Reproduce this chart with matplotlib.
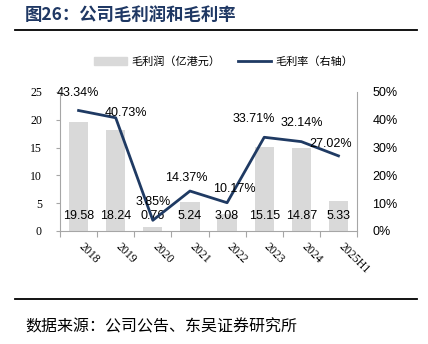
import matplotlib.pyplot as plt
from matplotlib.lines import Line2D
import numpy as np

plt.rcParams['font.family'] = ['Liberation Sans', 'Noto Sans CJK SC']

years = ["2018", "2019", "2020", "2021", "2022", "2023", "2024", "2025H1"]
profit = [19.58, 18.24, 0.76, 5.24, 3.08, 15.15, 14.87, 5.33]
margin = [43.34, 40.73, 3.85, 14.37, 10.17, 33.71, 32.14, 27.02]

bar_color = "#d9d9d9"
line_color = "#1f3a63"
spine_color = "#a6a6a6"

fig = plt.figure(figsize=(4.28, 3.44), dpi=100)
ax = fig.add_axes([0.1402, 0.3285, 0.6940, 0.4041])
ax2 = ax.twinx()

x = np.arange(len(years))
ax.bar(x, profit, width=0.52, color=bar_color, zorder=1, label="毛利润（亿港元）")
ax2.plot(x, margin, color=line_color, lw=2, zorder=3, label="毛利率（右轴）")

ax.set_xlim(-0.5, len(years) - 0.5)
ax.set_ylim(0, 25)
ax.set_yticks(range(0, 26, 5))
ax2.set_ylim(0, 50)
ax2.set_yticks(range(0, 51, 10))
ax2.set_yticklabels([f"{v}%" for v in range(0, 51, 10)], fontsize=9)

# category ticks sit between bars, labels under bar centres
ax.set_xticks(np.arange(-0.5, len(years), 1))
ax.set_xticklabels([])
ax.tick_params(axis="x", length=4, color=spine_color)
for xi, name in zip(x, years):
    ax.text(xi + 0.05, -0.1, name, transform=ax.get_xaxis_transform(),
            rotation=-45, rotation_mode="anchor", ha="left", va="center",
            fontsize=8.5, family="Liberation Serif")

for lab in ax.get_yticklabels():
    lab.set_family("Liberation Serif")
    lab.set_fontsize(8.5)
ax.tick_params(axis="y", length=3, pad=10, color=spine_color)
ax2.tick_params(axis="y", length=0, pad=11)

for a in (ax, ax2):
    a.spines["top"].set_visible(False)
    for s in ("left", "right", "bottom"):
        a.spines[s].set_color(spine_color)
ax.spines["right"].set_visible(False)
ax2.spines["left"].set_visible(False)
ax2.spines["bottom"].set_visible(False)

for xi, v in zip(x, profit):
    ax.annotate(f"{v:.2f}", (xi, 0), xytext=(0, 15), textcoords="offset pixels",
                ha="center", va="center", fontsize=9)

pct_offsets = [(-1, 18), (10, 5), (0, 18), (-4, 13), (7, 14), (-10, 18), (0, 19), (-8, 12)]
for xi, v, off in zip(x, margin, pct_offsets):
    ax2.annotate(f"{v:.2f}%", (xi, v), xytext=off, textcoords="offset pixels",
                 ha="center", va="center", fontsize=9, zorder=4)

handles = [plt.Rectangle((0, 0), 1, 1, color=bar_color),
           Line2D([0], [0], color=line_color, lw=2)]
fig.legend(handles, ["毛利润（亿港元）", "毛利率（右轴）"], loc="center",
           bbox_to_anchor=(0.523, 0.82), ncol=2, frameon=False,
           prop={"family": "Noto Sans CJK SC", "size": 8},
           handlelength=2.9, handleheight=0.7, handletextpad=0.45, columnspacing=1.6)

fig.text(25 / 428, 1 - 15 / 344, "图26：公司毛利润和毛利率", ha="left", va="center",
         fontsize=12.5, fontweight="bold", color="#1f3864", family="Noto Sans CJK SC")
fig.add_artist(Line2D([15 / 428, 417 / 428], [1 - 30 / 344, 1 - 30 / 344],
                      color="black", lw=1.3))
fig.add_artist(Line2D([15 / 428, 417 / 428], [1 - 299 / 344, 1 - 299 / 344],
                      color="black", lw=1.3))
fig.text(25 / 428, 1 - 327 / 344, "数据来源：公司公告、东吴证券研究所", ha="left", va="center",
         fontsize=11.5, family="Noto Sans CJK SC")

fig.savefig("out.png", dpi=100)
